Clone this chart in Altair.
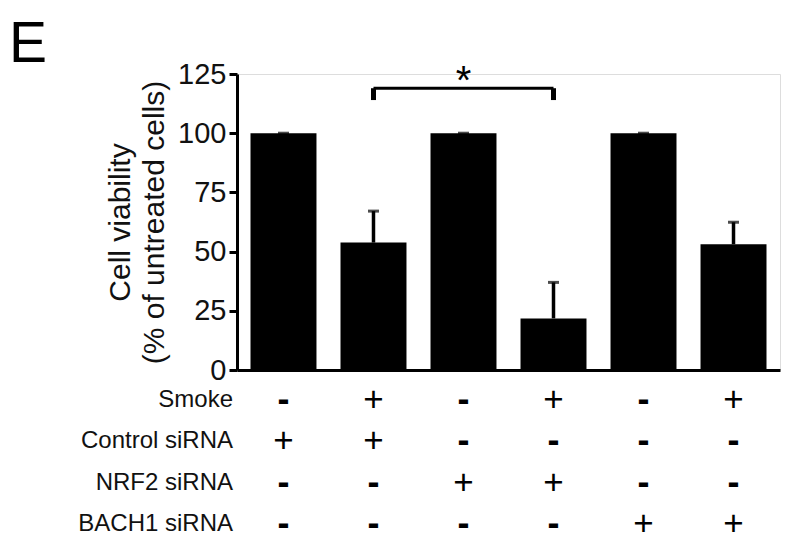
import altair as alt
import pandas as pd

# ---- data ----
groups = ["G1", "G2", "G3", "G4", "G5", "G6"]
means = [100, 53.8, 100, 21.8, 100, 53.1]
errs = [0, 13.3, 0, 15.2, 0, 9.3]

rows = ["Smoke", "Control siRNA", "NRF2 siRNA", "BACH1 siRNA"]
smoke = ["-", "+", "-", "+", "-", "+"]
control = ["+", "+", "-", "-", "-", "-"]
nrf2 = ["-", "-", "+", "+", "-", "-"]
bach1 = ["-", "-", "-", "-", "+", "+"]

y_ticks = [0, 25, 50, 75, 100, 125]
bracket_from, bracket_to = "G2", "G4"
bracket_y, bracket_drop = 119, 114
star_y = 116.5
panel_label = "E"

FONT = "Liberation Sans"

bars_df = pd.DataFrame({"g": groups, "mean": means, "err": errs})
bars_df["top"] = bars_df["mean"] + bars_df["err"]

tbl = []
for r, vals in zip(rows, [smoke, control, nrf2, bach1]):
    for g, v in zip(groups, vals):
        tbl.append({"row": r, "g": g, "s": v})
tbl_df = pd.DataFrame(tbl)
plus_df = tbl_df[tbl_df["s"] == "+"]
minus_df = tbl_df[tbl_df["s"] == "-"]
rowlab_df = pd.DataFrame({"row": rows})

brk_h = pd.DataFrame({"a": [bracket_from], "b": [bracket_to], "y": [bracket_y]})
brk_v = pd.DataFrame({"g": [bracket_from, bracket_to], "y": [bracket_drop] * 2, "y2": [bracket_y] * 2})
star_df = pd.DataFrame({"g": ["G3"], "y": [star_y], "t": ["*"]})
lab_df = pd.DataFrame({"t": [panel_label]})

xscale = alt.Scale(domain=groups, paddingInner=0.267, paddingOuter=0.15)
yscale = alt.Scale(domain=[0, 125], nice=False)
X = alt.X("g:N", scale=xscale, axis=alt.Axis(title=None, labels=False, ticks=False,
                                              domainColor="black", domainWidth=3))
Y = alt.Y("mean:Q", scale=yscale,
          axis=alt.Axis(values=y_ticks, title=["Cell viability", "(% of untreated cells)"],
                        labelFontSize=29, labelFont=FONT, labelColor="#111",
                        labelFlush=False, labelPadding=3,
                        tickSize=8, tickWidth=3, tickColor="black",
                        domainColor="black", domainWidth=3, grid=False,
                        titleFontSize=30, titleFont=FONT, titleFontWeight="normal",
                        titleColor="#111", titleLineHeight=34, titlePadding=8))

bars = alt.Chart(bars_df).mark_bar(color="black").encode(x=X, y=Y)
err_rule = alt.Chart(bars_df).mark_rule(color="black", strokeWidth=3.5).encode(
    x=alt.X("g:N", scale=xscale), y=alt.Y("mean:Q", scale=yscale), y2="top:Q")
err_cap = alt.Chart(bars_df).mark_tick(color="black", size=11, thickness=3, orient="horizontal").encode(
    x=alt.X("g:N", scale=xscale), y=alt.Y("top:Q", scale=yscale))
bh = alt.Chart(brk_h).mark_rule(color="black", strokeWidth=3).encode(
    x=alt.X("a:N", scale=xscale), x2="b:N", y=alt.Y("y:Q", scale=yscale))
bv = alt.Chart(brk_v).mark_rule(color="black", strokeWidth=5).encode(
    x=alt.X("g:N", scale=xscale), y=alt.Y("y:Q", scale=yscale), y2="y2:Q")
star = alt.Chart(star_df).mark_text(fontSize=40, font=FONT, baseline="alphabetic", color="black").encode(
    x=alt.X("g:N", scale=xscale), y=alt.Y("y:Q", scale=yscale), text="t:N")
elabel = alt.Chart(lab_df).mark_text(fontSize=57, font=FONT, align="left", baseline="alphabetic",
                                      color="black").encode(
    x=alt.value(-228), y=alt.value(-12), text="t:N")

top = alt.layer(bars, err_rule, err_cap, bh, bv, star, elabel)

rscale = alt.Scale(domain=rows, range=[326, 450], padding=0)
RY = alt.Y("row:N", scale=rscale, axis=None)
plus = alt.Chart(plus_df).mark_text(fontSize=35, font=FONT, baseline="middle", color="black").encode(
    x=alt.X("g:N", scale=xscale), y=RY, text="s:N")
minus = alt.Chart(minus_df).mark_text(fontSize=36, font=FONT, fontWeight="bold", baseline="middle",
                                      color="black").encode(
    x=alt.X("g:N", scale=xscale), y=RY, text="s:N")
rowlab = alt.Chart(rowlab_df).mark_text(fontSize=24, font=FONT, align="right", baseline="middle",
                                         color="#111").encode(
    x=alt.value(-4), y=RY, text="row:N")
table = alt.layer(plus, minus, rowlab)

chart = alt.layer(top, table).resolve_scale(y="independent").properties(
    width=543, height=296,
    padding={"left": 229, "top": 66, "right": 1, "bottom": 173},
    autosize="none",
).configure_view(strokeWidth=0).configure(background="white")

chart.save("out.html", embed_options={"renderer": "svg", "actions": False})
